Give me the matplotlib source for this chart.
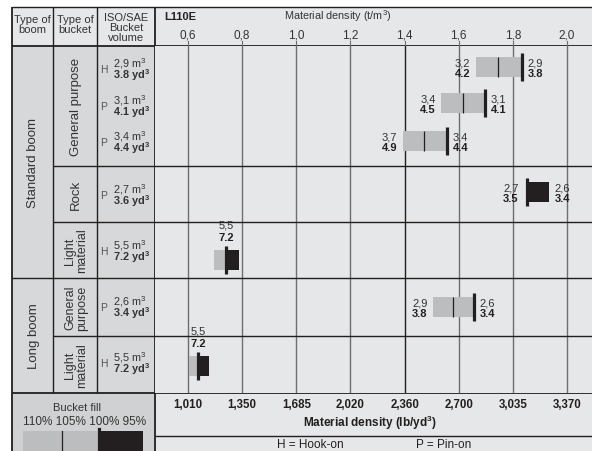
import matplotlib
matplotlib.use('Agg')
import matplotlib.pyplot as plt
from matplotlib.patches import Rectangle

plt.rcParams['font.family'] = ['Liberation Sans', 'DejaVu Sans']
plt.rcParams['mathtext.fontset'] = 'custom'
plt.rcParams['mathtext.rm'] = 'Liberation Sans'
plt.rcParams['mathtext.bf'] = 'Liberation Sans:bold'
plt.rcParams['mathtext.default'] = 'regular'

# ---------------- data ----------------
model = 'L110E'
boom_types = ['Standard boom', 'Long boom']
bucket_groups = ['General purpose', 'Rock', 'Light\nmaterial', 'General\npurpose', 'Light\nmaterial']
mount = ['H', 'P', 'P', 'P', 'H', 'P', 'H']
vol_m3 = ['2,9', '3,1', '3,4', '2,7', '5,5', '2,6', '5,5']
vol_yd3 = ['3.8', '4.1', '4.4', '3.6', '7.2', '3.4', '7.2']
# material density (t/m3) at bucket fill 110 %, 105 %, 100 %, 95 %
dens_110 = [1.664, 1.535, 1.394, None, 0.696, 1.505, 0.604]
dens_105 = [1.745, 1.616, 1.472, None, None, 1.579, None]
dens_100 = [1.834, 1.697, 1.557, 1.852, 0.740, 1.657, 0.637]
dens_95 = [None, None, None, 1.934, 0.788, None, 0.678]
lo_m3 = ['3,2', '3,4', '3,7', '2,7', '5,5', '2,9', '5,5']
lo_yd3 = ['4.2', '4.5', '4.9', '3.5', '7.2', '3.8', '7.2']
hi_m3 = ['2,9', '3,1', '3,4', '2,6', None, '2,6', None]
hi_yd3 = ['3.8', '4.1', '4.4', '3.4', None, '3.4', None]
tick_tm3 = [0.6, 0.8, 1.0, 1.2, 1.4, 1.6, 1.8, 2.0]
tick_tm3_labels = ['0,6', '0,8', '1,0', '1,2', '1,4', '1,6', '1,8', '2,0']
tick_lb_labels = ['1,010', '1,350', '1,685', '2,020', '2,360', '2,700', '3,035', '3,370']
fill_labels = ['110%', '105%', '100%', '95%']

# ---------------- layout (pixels) ----------------
W, H = 592, 452
X0, XB, XV, XP = 12, 53, 97, 155          # column edges
Y0, YH, YE, YL = 8, 47, 394, 437           # row edges
row_bounds = [YH, 167, 223, 279, 337, YE]   # bucket-group boundaries
boom_bounds = [YH, 279, YE]
text_y = [69, 106, 142, 195, 251, 307, 363]
bar_y = [68, 104, 142, 193, 261, 308, 367]
label_top = [False, False, False, False, True, False, True]

LIGHT = '#e6e7e8'
MID = '#d7d8d9'
DARKC = '#d0d1d2'
GRAY_BAR = '#bcbdbf'
BLACK = '#231f20'
TXT = '#333333'
LINE = '#231f20'

fig = plt.figure(figsize=(W / 100, H / 100), dpi=100)
ax0 = fig.add_axes([0, 0, 1, 1])
ax0.set_xlim(0, W)
ax0.set_ylim(H, 0)
ax0.axis('off')

# cell backgrounds
ax0.add_patch(Rectangle((X0, Y0), W - X0, YH - Y0, color=LIGHT, lw=0))
ax0.add_patch(Rectangle((X0, YH), XP - X0, YE - YH, color=MID, lw=0))
ax0.add_patch(Rectangle((X0, YE), XP - X0, H - YE, color=DARKC, lw=0))
ax0.add_patch(Rectangle((XP, YE), W - XP, H - YE, color=LIGHT, lw=0))

# table lines
def hl(y, x1, x2, lw=1.0):
    ax0.plot([x1, x2], [y, y], color=LINE, lw=lw, solid_capstyle='butt')

def vl(x, y1, y2, lw=1.0):
    ax0.plot([x, x], [y1, y2], color=LINE, lw=lw, solid_capstyle='butt')

vl(X0, Y0, H, 1.3)
hl(Y0, X0, W, 1.0)
hl(YH, X0, W, 1.3)
vl(XB, Y0, YE)
vl(XV, Y0, YE)
vl(XP, Y0, H, 1.3)
for yb in row_bounds[1:-1]:
    hl(yb, XB if yb not in boom_bounds else X0, W)
hl(YE, X0, W, 1.3)
hl(YL, XP, W, 1.0)

# header texts
ax0.text((X0 + XB) / 2, 25, 'Type of\nboom', ha='center', va='center', fontsize=8, color=TXT, linespacing=1.0)
ax0.text((XB + XV) / 2, 25, 'Type of\nbucket', ha='center', va='center', fontsize=8, color=TXT, linespacing=1.0)
ax0.text((XV + XP) / 2, 28, 'ISO/SAE\nBucket\nvolume', ha='center', va='center', fontsize=8, color=TXT, linespacing=1.0)
ax0.text(164, 17, model, ha='left', va='center', fontsize=8, fontweight='bold', color=BLACK)
ax0.text(338, 16, 'Material density (t/m$^3$)', ha='center', va='center', fontsize=7.8, color=TXT)

# boom / bucket labels
for k, name in enumerate(boom_types):
    ax0.text((X0 + XB) / 2 + 1, (boom_bounds[k] + boom_bounds[k + 1]) / 2, name, rotation=90,
             ha='center', va='center', fontsize=9.5, color=TXT)
for i, g in enumerate(bucket_groups):
    yc = (row_bounds[i] + row_bounds[i + 1]) / 2
    ax0.text((XB + XV) / 2 + 1, yc, g, rotation=90, ha='center', va='center',
             fontsize=9.5 if '\n' not in g else 9, color=TXT, linespacing=0.95)

# bucket volume column (two lines in one text: m3 regular, yd3 bold)
for i in range(len(mount)):
    ax0.text(104, text_y[i] + 1, mount[i], ha='center', va='center', fontsize=7.5, color='#555555')
    s = vol_m3[i] + ' m$^3$\n' + r'$\mathbf{' + vol_yd3[i] + r'\ yd^3}$'
    ax0.text(113, text_y[i] + 0.5, s, ha='left', va='center', fontsize=7.8, color=TXT,
             linespacing=0.74)

# ---------------- data axes ----------------
ax = fig.add_axes([XP / W, (H - YE) / H, (W - XP) / W, (YE - YH) / H])
px_per_unit = (567 - 188) / 1.4
ax.set_xlim(0.6 - (188 - XP) / px_per_unit, 2.0 + (W - 567) / px_per_unit)
ax.set_ylim(YE, YH)
ax.set_facecolor(LIGHT)
for sp in ax.spines.values():
    sp.set_visible(False)
ax.set_xticks([])
ax.set_yticks([])

for t in tick_tm3:
    ax.axvline(t, color=BLACK if t == 1.4 else '#6d6e71', lw=1.0, zorder=1)
for yb in row_bounds[1:-1]:
    ax.axhline(yb, color=LINE, lw=1.0, zorder=1)

BH = 20
FS = 8
for i in range(len(mount)):
    y = bar_y[i]
    if dens_110[i] is not None:
        ax.barh(y, dens_100[i] - dens_110[i], left=dens_110[i], height=BH, color=GRAY_BAR, lw=0, zorder=3)
    if dens_95[i] is not None:
        ax.barh(y, dens_95[i] - dens_100[i], left=dens_100[i], height=BH, color=BLACK, lw=0, zorder=3)
    if dens_105[i] is not None:
        ax.vlines(dens_105[i], y - BH / 2, y + BH / 2, color=BLACK, lw=0.9, zorder=4)
    ax.vlines(dens_100[i], y - 14, y + 14, color=BLACK, lw=2.3, zorder=5)

    if label_top[i]:
        ax.text(dens_100[i], y - 35, lo_m3[i], ha='center', va='center', fontsize=FS, color=TXT, zorder=6)
        ax.text(dens_100[i], y - 23, lo_yd3[i], ha='center', va='center', fontsize=FS,
                fontweight='bold', color=BLACK, zorder=6)
    else:
        xl = dens_110[i] if dens_110[i] is not None else dens_100[i]
        off = 4 if dens_110[i] is not None else 6
        ax.annotate(lo_m3[i], (xl, y - 5), xytext=(-off, 0), textcoords='offset points',
                    ha='right', va='center', fontsize=FS, color=TXT, zorder=6)
        ax.annotate(lo_yd3[i], (xl, y + 6), xytext=(-off, 0), textcoords='offset points',
                    ha='right', va='center', fontsize=FS, fontweight='bold', color=BLACK, zorder=6)
        xr = dens_95[i] if dens_95[i] is not None else dens_100[i]
        ax.annotate(hi_m3[i], (xr, y - 5), xytext=(4, 0), textcoords='offset points',
                    ha='left', va='center', fontsize=FS, color=TXT, zorder=6)
        ax.annotate(hi_yd3[i], (xr, y + 6), xytext=(4, 0), textcoords='offset points',
                    ha='left', va='center', fontsize=FS, fontweight='bold', color=BLACK, zorder=6)

# header tick labels and tick marks (t/m3), bottom labels (lb/yd3)
for t, lab, lab2 in zip(tick_tm3, tick_tm3_labels, tick_lb_labels):
    xp = 188 + (t - 0.6) * px_per_unit
    ax0.text(xp, 35, lab, ha='center', va='center', fontsize=8.5, color=TXT)
    ax0.plot([xp, xp], [42, YH], color='#6d6e71', lw=0.8)
    ax0.text(xp, 405, lab2, ha='center', va='center', fontsize=8.3, fontweight='bold', color=BLACK)

ax0.text(370, 423, 'Material density (lb/yd$^{\\mathbf{3}}$)', ha='center', va='center', fontsize=8.5,
         fontweight='bold', color=BLACK)
ax0.text(310, 445, 'H = Hook-on', ha='center', va='center', fontsize=8.5, color=BLACK)
ax0.text(444, 445, 'P = Pin-on', ha='center', va='center', fontsize=8.5, color=BLACK)

# bucket fill legend
ax0.text(77, 408, 'Bucket fill', ha='center', va='center', fontsize=8, color=TXT)
ax0.text(85, 422, ' '.join(fill_labels), ha='center', va='center', fontsize=8.5, color=TXT)
ax0.add_patch(Rectangle((23, 432), 76, 22, color=GRAY_BAR, lw=0))
ax0.add_patch(Rectangle((99, 432), 44, 22, color=BLACK, lw=0))
ax0.plot([62, 62], [432, H], color=BLACK, lw=0.9)
ax0.plot([99, 99], [430, H], color=BLACK, lw=2.3)

fig.savefig('out.png', dpi=100)
